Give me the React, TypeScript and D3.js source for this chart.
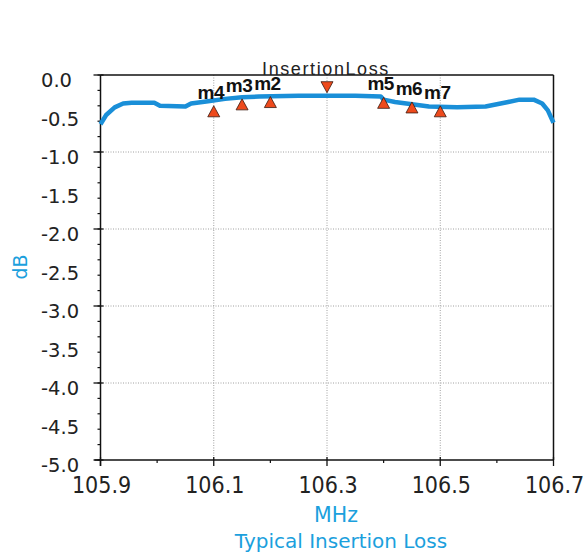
import React from "react";
import * as d3 from "d3";

const freqs = [105.9, 105.91, 105.925, 105.94, 105.955, 105.995, 106.005, 106.05, 106.06, 106.09, 106.12, 106.15, 106.18, 106.25, 106.35, 106.395, 106.4, 106.42, 106.45, 106.48, 106.53, 106.58, 106.6, 106.62, 106.64, 106.665, 106.68, 106.69, 106.7];
const lossDb = [-0.64, -0.52, -0.42, -0.37, -0.36, -0.36, -0.4, -0.41, -0.37, -0.34, -0.31, -0.29, -0.28, -0.27, -0.27, -0.28, -0.32, -0.35, -0.38, -0.41, -0.42, -0.41, -0.38, -0.35, -0.32, -0.32, -0.37, -0.46, -0.62];

const markerNames = ["m4", "m3", "m2", "m5", "m6", "m7"];
const markerFreqs = [106.1, 106.15, 106.2, 106.4, 106.45, 106.5];
const markerDb = [-0.4, -0.31, -0.28, -0.29, -0.35, -0.4];
const refMarkerFreq = 106.3;
const refMarkerDb = -0.23;

const xTickValues = [105.9, 106.1, 106.3, 106.5, 106.7];
const xMinorTicks = [106.0, 106.2, 106.4, 106.6];
const yLabelValues = [0, -0.5, -1, -1.5, -2, -2.5, -3, -3.5, -4, -4.5, -5];
const yMajorTicks = [0, -1, -2, -3, -4, -5];
const yGridValues = [-1, -2, -3, -4];
const xGridValues = [106.1, 106.3, 106.5];

const chartTitle = "InsertionLoss";
const xTitle = "MHz";
const yTitle = "dB";
const caption = "Typical Insertion Loss";

export default function App() {
  const x = d3.scaleLinear().domain([105.9, 106.7]).range([100.5, 553.5]);
  const y = d3.scaleLinear().domain([-5, 0]).range([460, 75]);
  const line = d3
    .line<number>()
    .x((_, i) => x(freqs[i]))
    .y((d) => y(d))
    .curve(d3.curveLinear);
  const yMinor = d3.range(0, 26).map((i) => -i * 0.2);
  const cyan = "#1ba0dd";
  const tri = (cx: number, cy: number, up: boolean) => {
    const h = 11, w = 12;
    return up
      ? `M${cx},${cy} L${cx + w / 2},${cy + h} L${cx - w / 2},${cy + h} Z`
      : `M${cx},${cy} L${cx + w / 2},${cy - h} L${cx - w / 2},${cy - h} Z`;
  };
  return (
    <svg width={587} height={557} style={{ position: "absolute", left: 0, top: 0, background: "#fff" }}>
      {yGridValues.map((v) => (
        <line key={"gy" + v} x1={x(105.9)} x2={x(106.7)} y1={y(v)} y2={y(v)} stroke="#a0a0a0" strokeWidth={1} strokeDasharray="1,1.5" />
      ))}
      {xGridValues.map((v) => (
        <line key={"gx" + v} x1={x(v)} x2={x(v)} y1={y(0)} y2={y(-5)} stroke="#a0a0a0" strokeWidth={1} strokeDasharray="1,1.5" />
      ))}
      <line x1={x(105.9)} x2={x(106.7)} y1={y(0)} y2={y(0)} stroke="#111" strokeWidth={1.5} />
      <line x1={x(106.7)} x2={x(106.7)} y1={y(0)} y2={y(-5)} stroke="#111" strokeWidth={1.5} />
      <line x1={x(105.9)} x2={x(105.9)} y1={y(0)} y2={y(-5) + 6} stroke="#111" strokeWidth={1.5} />
      <line x1={x(105.9) - 6} x2={x(106.7)} y1={y(-5)} y2={y(-5)} stroke="#111" strokeWidth={1.5} />
      {yMinor.map((v, i) => (
        <line key={"ym" + i} x1={x(105.9) - 3} x2={x(105.9)} y1={y(v)} y2={y(v)} stroke="#111" strokeWidth={1.2} />
      ))}
      {yMajorTicks.map((v) => (
        <line key={"yM" + v} x1={x(105.9) - 7} x2={x(105.9) + 3} y1={y(v)} y2={y(v)} stroke="#111" strokeWidth={1.3} />
      ))}
      {xMinorTicks.map((v) => (
        <line key={"xm" + v} x1={x(v)} x2={x(v)} y1={y(-5)} y2={y(-5) + 3} stroke="#111" strokeWidth={1.2} />
      ))}
      {xTickValues.map((v) => (
        <line key={"xM" + v} x1={x(v)} x2={x(v)} y1={y(-5) - 3} y2={y(-5) + 6} stroke="#111" strokeWidth={1.3} />
      ))}
      {yLabelValues.map((v) => (
        <text key={"yl" + v} x={41} y={y(v) + 12} fontFamily="DejaVu Sans" fontSize={19.5} fill="#222">
          {v.toFixed(1)}
        </text>
      ))}
      {xTickValues.map((v) => (
        <text key={"xl" + v} x={x(v) + 1} y={y(-5) + 33} textAnchor="middle" fontFamily="DejaVu Sans Condensed" fontSize={23} fill="#222">
          {v.toFixed(1)}
        </text>
      ))}
      <path d={line(lossDb) || ""} fill="none" stroke="#1a8fd8" strokeWidth={4.5} strokeLinejoin="round" />
      {markerNames.map((m, i) => (
        <path key={"tri" + m} d={tri(x(markerFreqs[i]), y(markerDb[i]), true)} fill="#ee4a1c" stroke="#3a1a10" strokeWidth={0.8} />
      ))}
      <path d={tri(x(refMarkerFreq), y(refMarkerDb), false)} fill="#ee4a1c" stroke="#3a1a10" strokeWidth={0.8} />
      {markerNames.map((m, i) => (
        <text key={"ml" + m} x={x(markerFreqs[i]) - 3} y={y(markerDb[i]) - 7} textAnchor="middle" fontFamily="Liberation Sans" fontWeight="bold" fontSize={19} letterSpacing={-0.5} fill="#111">
          {m}
        </text>
      ))}
      <text x={326} y={75} textAnchor="middle" fontFamily="Liberation Sans" fontSize={18} letterSpacing={1.6} fill="#222">
        {chartTitle}
      </text>
      <text x={336} y={522} textAnchor="middle" fontFamily="DejaVu Sans" fontSize={20.5} fill={cyan}>
        {xTitle}
      </text>
      <text x={341} y={548} textAnchor="middle" fontFamily="DejaVu Sans" fontSize={20} fill={cyan}>
        {caption}
      </text>
      <text transform="translate(27,267) rotate(-90)" textAnchor="middle" fontFamily="DejaVu Sans" fontSize={19} fill={cyan}>
        {yTitle}
      </text>
    </svg>
  );
}
